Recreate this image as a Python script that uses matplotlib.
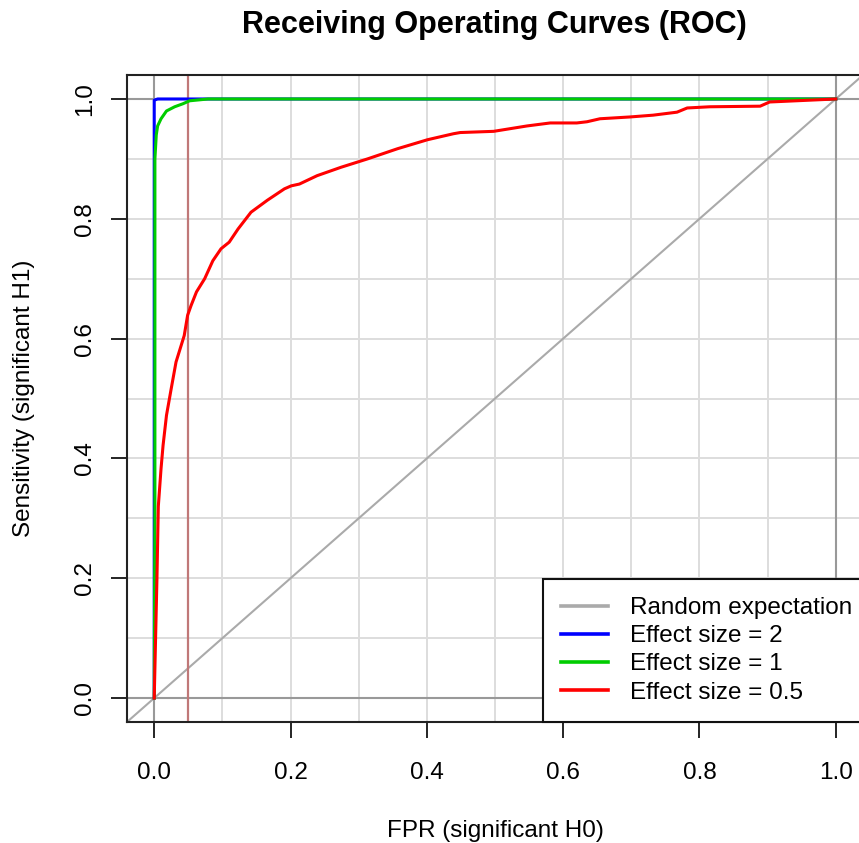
import numpy as np
import matplotlib
matplotlib.use("Agg")
import matplotlib.pyplot as plt

plt.rcParams['font.family'] = ['Liberation Sans', 'DejaVu Sans']

# ROC curves
fpr_big = [0.0, 0.0, 0.005, 1.0]
tpr_big = [0.0, 0.998, 1.0, 1.0]

fpr_mid = [0.0, 0.001, 0.001, 0.003, 0.005, 0.010, 0.018, 0.030, 0.042, 0.052, 0.079, 1.0]
tpr_mid = [0.0, 0.300, 0.900, 0.940, 0.955, 0.967, 0.980, 0.987, 0.992, 0.997, 1.000, 1.0]

fpr_small = [0.0, 0.002, 0.004, 0.006, 0.010, 0.013, 0.018, 0.025, 0.032, 0.044, 0.049, 0.054,
             0.062, 0.074, 0.086, 0.098, 0.110, 0.123, 0.142, 0.166, 0.191, 0.201, 0.213,
             0.239, 0.274, 0.313, 0.357, 0.401, 0.439, 0.449, 0.498, 0.547, 0.581, 0.620,
             0.635, 0.654, 0.698, 0.732, 0.767, 0.782, 0.815, 0.889, 0.903, 1.0]
tpr_small = [0.0, 0.100, 0.200, 0.320, 0.383, 0.422, 0.472, 0.517, 0.561, 0.605, 0.639, 0.655,
             0.678, 0.700, 0.730, 0.750, 0.761, 0.783, 0.811, 0.831, 0.850, 0.855, 0.858,
             0.872, 0.886, 0.900, 0.917, 0.932, 0.942, 0.944, 0.946, 0.955, 0.960, 0.960,
             0.962, 0.967, 0.970, 0.973, 0.978, 0.985, 0.987, 0.988, 0.995, 1.0]

alpha_level = 0.05
ticks = [0.0, 0.2, 0.4, 0.6, 0.8, 1.0]
grid_steps = np.arange(0, 1.01, 0.1)

fig = plt.figure(figsize=(8.59, 8.43), dpi=100)
ax = fig.add_axes([0.1478, 0.1435, 0.8569, 0.7675])
ax.set_xlim(-0.04, 1.04)
ax.set_ylim(-0.04, 1.04)

for g in grid_steps:
    ax.axvline(g, color='#dddddd', lw=1.4, zorder=0)
    ax.axhline(g, color='#dddddd', lw=1.4, zorder=0)
for g in [0, 1]:
    ax.axvline(g, color='#999999', lw=1.5, zorder=1)
    ax.axhline(g, color='#999999', lw=1.5, zorder=1)

ax.plot([-0.1, 1.1], [-0.1, 1.1], color='#aaaaaa', lw=1.5, zorder=1, label='Random expectation')
ax.axvline(alpha_level, color='#c07878', lw=1.6, zorder=1)

ax.plot(fpr_big, tpr_big, color='#0000ff', lw=2.2, zorder=3, label='Effect size = 2')
ax.plot(fpr_mid, tpr_mid, color='#00cd00', lw=2.2, zorder=4, label='Effect size = 1')
ax.plot(fpr_small, tpr_small, color='#ff0000', lw=2.2, zorder=5, label='Effect size = 0.5')

ax.set_xticks(ticks)
ax.set_yticks(ticks)
ax.set_xticklabels(['%.1f' % t for t in ticks])
ax.set_yticklabels(['%.1f' % t for t in ticks], rotation=90, va='center')
ax.tick_params(direction='out', length=11.5, width=1.2, labelsize=17.5)
ax.tick_params(axis='x', pad=17)
ax.tick_params(axis='y', pad=11)
for s in ax.spines.values():
    s.set_linewidth(1.5)
    s.set_color('#222222')

fig.text(0.575, 0.970, 'Receiving Operating Curves (ROC)', fontsize=22, fontweight='bold',
         ha='center', va='center')
ax.set_xlabel('FPR (significant H0)', fontsize=17.5)
ax.set_ylabel('Sensitivity (significant H1)', fontsize=17.5)
ax.xaxis.set_label_coords(0.5, -0.151)
ax.yaxis.set_label_coords(-0.125, 0.5)

leg = ax.legend(loc='lower left', bbox_to_anchor=(0.565, 0.0), borderaxespad=0,
                fancybox=False, edgecolor='#111111', fontsize=17.5, handlelength=1.93,
                handletextpad=0.9, labelspacing=0.25, borderpad=0.76, framealpha=1)
leg.get_frame().set_linewidth(1.5)
leg.set_zorder(10)
for line in leg.get_lines():
    line.set_linewidth(2.6)

fig.savefig('out.png', dpi=100)
